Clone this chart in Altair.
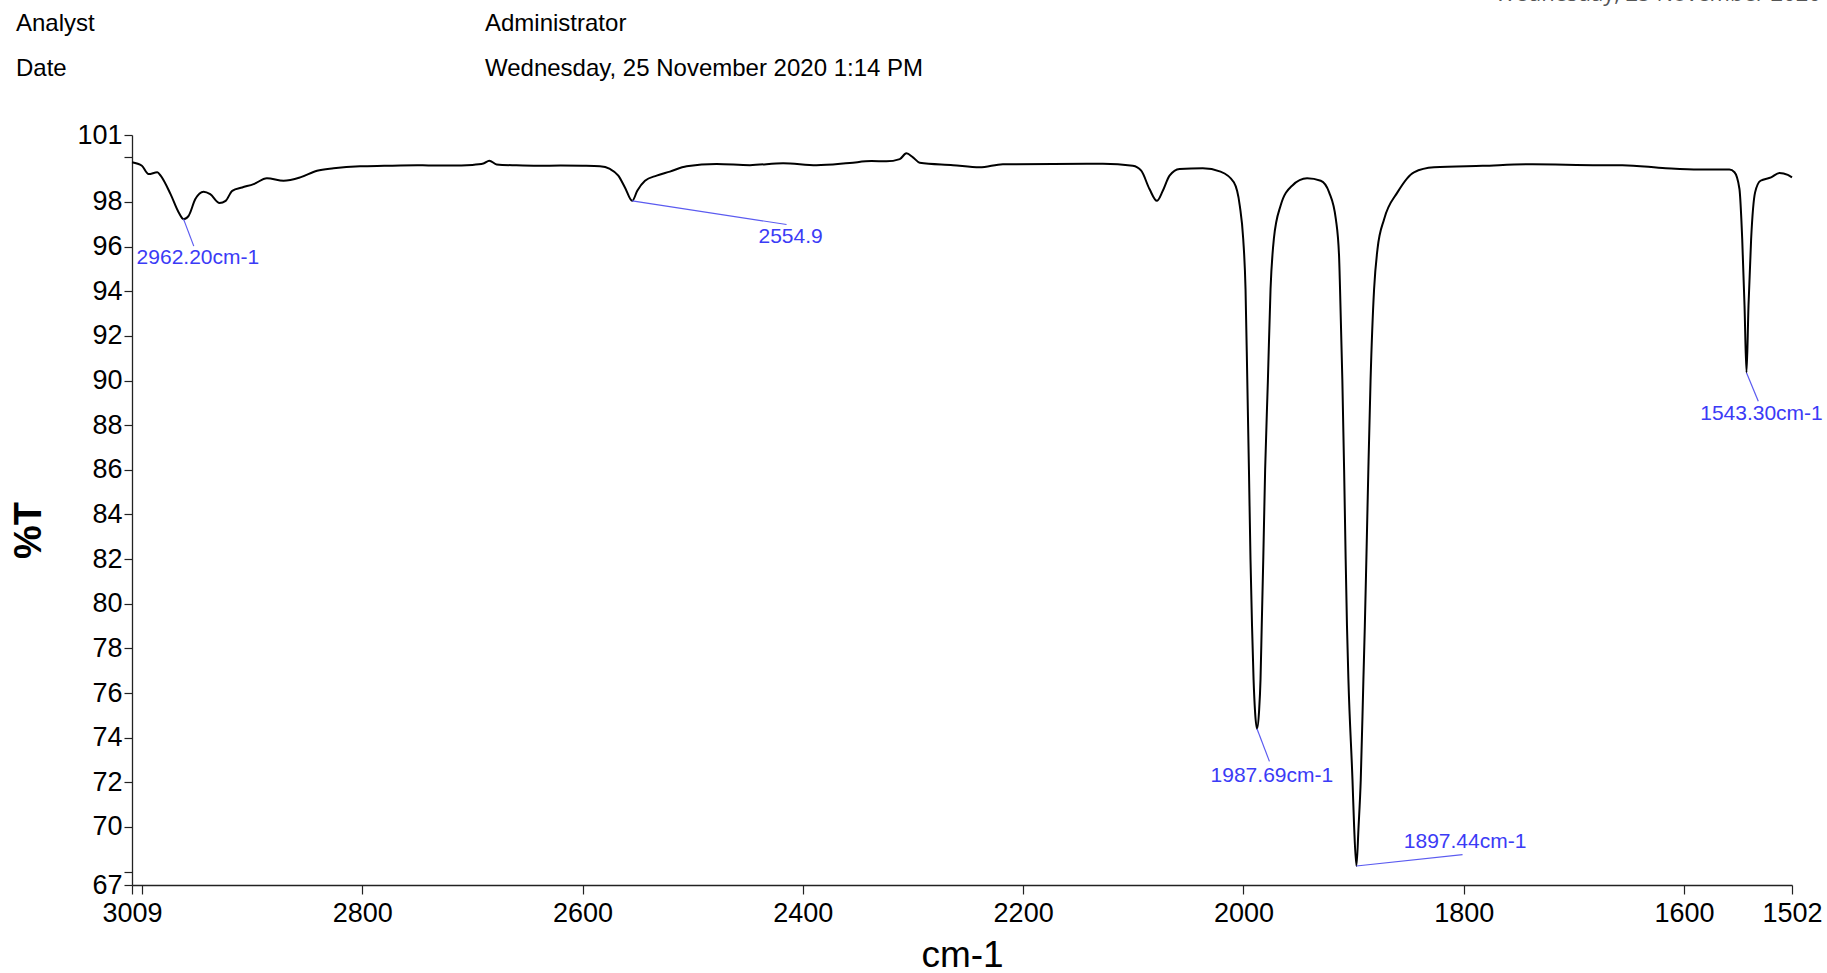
import altair as alt
import pandas as pd

# ---------------- data ----------------
wavenumber = [
    3009, 3000, 2994, 2986, 2983, 2974, 2966.6, 2962.2, 2957.6, 2951.5, 2944, 2938,
    2929.5, 2924, 2918, 2909, 2898.6, 2886.5, 2871.4, 2856.3, 2841, 2826, 2802,
    2780, 2750, 2720, 2700, 2690, 2684.6, 2678, 2660, 2640, 2620, 2600,
    2584.2, 2575.1, 2567.5, 2561.5, 2554.9, 2550.3, 2543.3, 2532.7, 2520.7, 2505.5,
    2478.3, 2448, 2417.9, 2387.6, 2357.4, 2337.7, 2324.1, 2312, 2306, 2300, 2293.9,
    2263.7, 2239.5, 2218.4, 2173, 2127.6, 2100.4, 2092.8, 2085.3, 2078.6, 2073.2,
    2067.1, 2058, 2036.9, 2020.8, 2008.7, 2003.3, 2000.2, 1998.1, 1996.5, 1995.0,
    1993.6, 1992.2, 1990.8, 1989.5, 1987.69, 1985.8, 1984.5, 1983.4, 1982.0, 1980.3,
    1977.8, 1975.4, 1972.4, 1966.3, 1955.8, 1942.2, 1929.8, 1922.2, 1916.1, 1913.2,
    1912.3, 1910.2, 1908.6, 1907.2, 1906.0, 1904.7, 1901.0, 1899.5, 1897.44, 1895.5,
    1893.5, 1891.1, 1889.8, 1888.4, 1886.6, 1884.6, 1881.4, 1878.3, 1872.3, 1860.2,
    1845.2, 1827, 1782.9, 1737.6, 1677, 1656, 1616.6, 1586.4, 1558.8, 1554.2, 1549.7,
    1547.2, 1545.1, 1543.3, 1541.5, 1539.1, 1535.5, 1530.6, 1521, 1513.4, 1505.8, 1502,
]
transmittance = [
    99.78, 99.62, 99.25, 99.33, 99.18, 98.35, 97.53, 97.23, 97.38, 98.13, 98.46, 98.35,
    97.95, 98.05, 98.50, 98.65, 98.80, 99.06, 98.95, 99.10, 99.40, 99.51, 99.60,
    99.62, 99.64, 99.63, 99.66, 99.72, 99.85, 99.68, 99.64, 99.62, 99.63, 99.62,
    99.60, 99.48, 99.18, 98.65, 98.05, 98.50, 98.95, 99.18, 99.36, 99.60,
    99.70, 99.65, 99.74, 99.65, 99.75, 99.83, 99.82, 99.92, 100.18, 100.0, 99.76,
    99.65, 99.55, 99.69, 99.70, 99.71, 99.62, 99.40, 98.58, 98.05, 98.50,
    99.18, 99.48, 99.51, 99.36, 98.88, 97.83, 96.34, 94.09, 90.0, 86.0,
    82.0, 79.0, 76.6, 75.2, 74.4, 75.2, 76.6, 79.0, 82.0, 86.0,
    90.0, 94.09, 96.34, 97.83, 98.73, 99.06, 98.95, 98.43, 97.23, 95.59,
    94.09, 90.0, 86.0, 82.0, 79.0, 76.6, 72.1, 70.0, 68.25, 70.0,
    72.1, 76.6, 79.0, 82.0, 86.0, 90.0, 94.09, 95.89, 97.23, 98.43,
    99.33, 99.55, 99.62, 99.69, 99.65, 99.65, 99.51, 99.45, 99.45, 99.33, 98.58,
    96.34, 93.35, 90.35, 93.35, 96.34, 98.43, 98.95, 99.10, 99.30, 99.21, 99.10,
]

peak_wn = [2962.20, 2554.9, 1987.69, 1897.44, 1543.30]
peak_T = [97.23, 98.05, 74.4, 68.25, 90.35]
peak_labels = ["2962.20cm-1", "2554.9", "1987.69cm-1", "1897.44cm-1", "1543.30cm-1"]
label_wn = [2949.2, 2411.1, 1974.2, 1798.8, 1529.7]
label_T = [95.51, 96.41, 72.27, 69.32, 88.52]
leader_end_wn = [2952.9, 2414.8, 1976.4, 1801.1, 1532.6]
leader_end_T = [96.02, 96.99, 72.94, 68.76, 89.07]

x_ticks = [3009, 3000, 2800, 2600, 2400, 2200, 2000, 1800, 1600, 1502]
y_ticks = [67.4, 68, 70, 72, 74, 76, 78, 80, 82, 84, 86, 88, 90, 92, 94, 96, 98, 100, 101]

header_keys = ["Analyst", "Date"]
header_values = ["Administrator", "Wednesday, 25 November 2020 1:14 PM"]
corner_text = "Wednesday, 25 November 2020 1:14 PM"

# ---------------- styling ----------------
FONT = "Liberation Sans, Arial, sans-serif"
BLUE = "#3b3bf6"
LEADER = "#5b5bf0"
W, H = 1660, 750
PAD = {"left": 132, "top": 135, "right": 1827 - 132 - W, "bottom": 973 - 135 - H}

spec = pd.DataFrame({"wn": wavenumber, "T": transmittance})
ann = pd.DataFrame({
    "wn": peak_wn, "T": peak_T, "label": peak_labels,
    "lwn": label_wn, "lT": label_T, "ewn": leader_end_wn, "eT": leader_end_T,
})

xscale = alt.Scale(domain=[1502, 3009], reverse=True, nice=False, zero=False)
yscale = alt.Scale(domain=[67.4, 101], nice=False, zero=False)

x_axis = alt.Axis(
    values=x_ticks, format="d", labelExpr="datum.value == 3000 ? '' : datum.label",
    labelFlush=False, labelOverlap=False, tickSize=9, labelPadding=6,
    labelFont=FONT, labelFontSize=27, labelColor="black",
    domainColor="#222", tickColor="#222", domainWidth=1.3, tickWidth=1.2,
    grid=False, title="cm-1", titleFont=FONT, titleFontSize=37,
    titleFontWeight="normal", titleColor="black", titleY=70, titleBaseline="middle",
)
y_axis = alt.Axis(
    values=y_ticks,
    labelExpr="datum.value < 68 ? '67' : ((datum.value == 100 || datum.value == 68) ? '' : datum.label)",
    labelOverlap=False, labelFlush=False, tickSize=8, labelPadding=2,
    labelFont=FONT, labelFontSize=27, labelColor="black", labelBaseline="middle",
    domainColor="#222", tickColor="#222", domainWidth=1.3, tickWidth=1.2,
    grid=False, title="%T", titleFont=FONT, titleFontSize=38,
    titleFontWeight="bold", titleColor="black", titleX=-103, titleY=395,
    titleAlign="center", titleBaseline="middle", titleAngle=270,
)

line = alt.Chart(spec).mark_line(color="black", strokeWidth=2, interpolate="monotone").encode(
    x=alt.X("wn:Q", scale=xscale, axis=x_axis),
    y=alt.Y("T:Q", scale=yscale, axis=y_axis),
)

leaders = alt.Chart(ann).mark_rule(color=LEADER, strokeWidth=1.2).encode(
    x="wn:Q", y="T:Q", x2="ewn:Q", y2="eT:Q",
)

labels = alt.Chart(ann).mark_text(
    font=FONT, fontSize=21, color=BLUE, align="center", baseline="middle"
).encode(x="lwn:Q", y="lT:Q", text="label:N")

hdr = pd.DataFrame({"k": header_keys, "v": header_values, "row": [0, 1]})


def header_text(field, row, xpix, ypix):
    return alt.Chart(hdr).transform_filter(f"datum.row == {row}").mark_text(
        font=FONT, fontSize=24, color="black", align="left", baseline="alphabetic"
    ).encode(x=alt.value(xpix), y=alt.value(ypix), text=f"{field}:N")


hdr_layers = [
    header_text("k", 0, -116, -104),
    header_text("k", 1, -116, -59),
    header_text("v", 0, 353, -104),
    header_text("v", 1, 353, -59),
]

corner = alt.Chart(pd.DataFrame({"t": [corner_text]})).mark_text(
    font="Open Sans, Liberation Sans, sans-serif", fontSize=22, color="#555",
    align="left", baseline="alphabetic",
).encode(x=alt.value(1363), y=alt.value(-134), text="t:N")

chart = alt.layer(line, leaders, labels, *hdr_layers, corner).properties(
    width=W, height=H, padding=PAD, autosize=alt.AutoSizeParams(type="none"),
    background="white",
).configure_view(stroke=None)

chart.save("out.html", embed_options={"renderer": "svg", "actions": False})
